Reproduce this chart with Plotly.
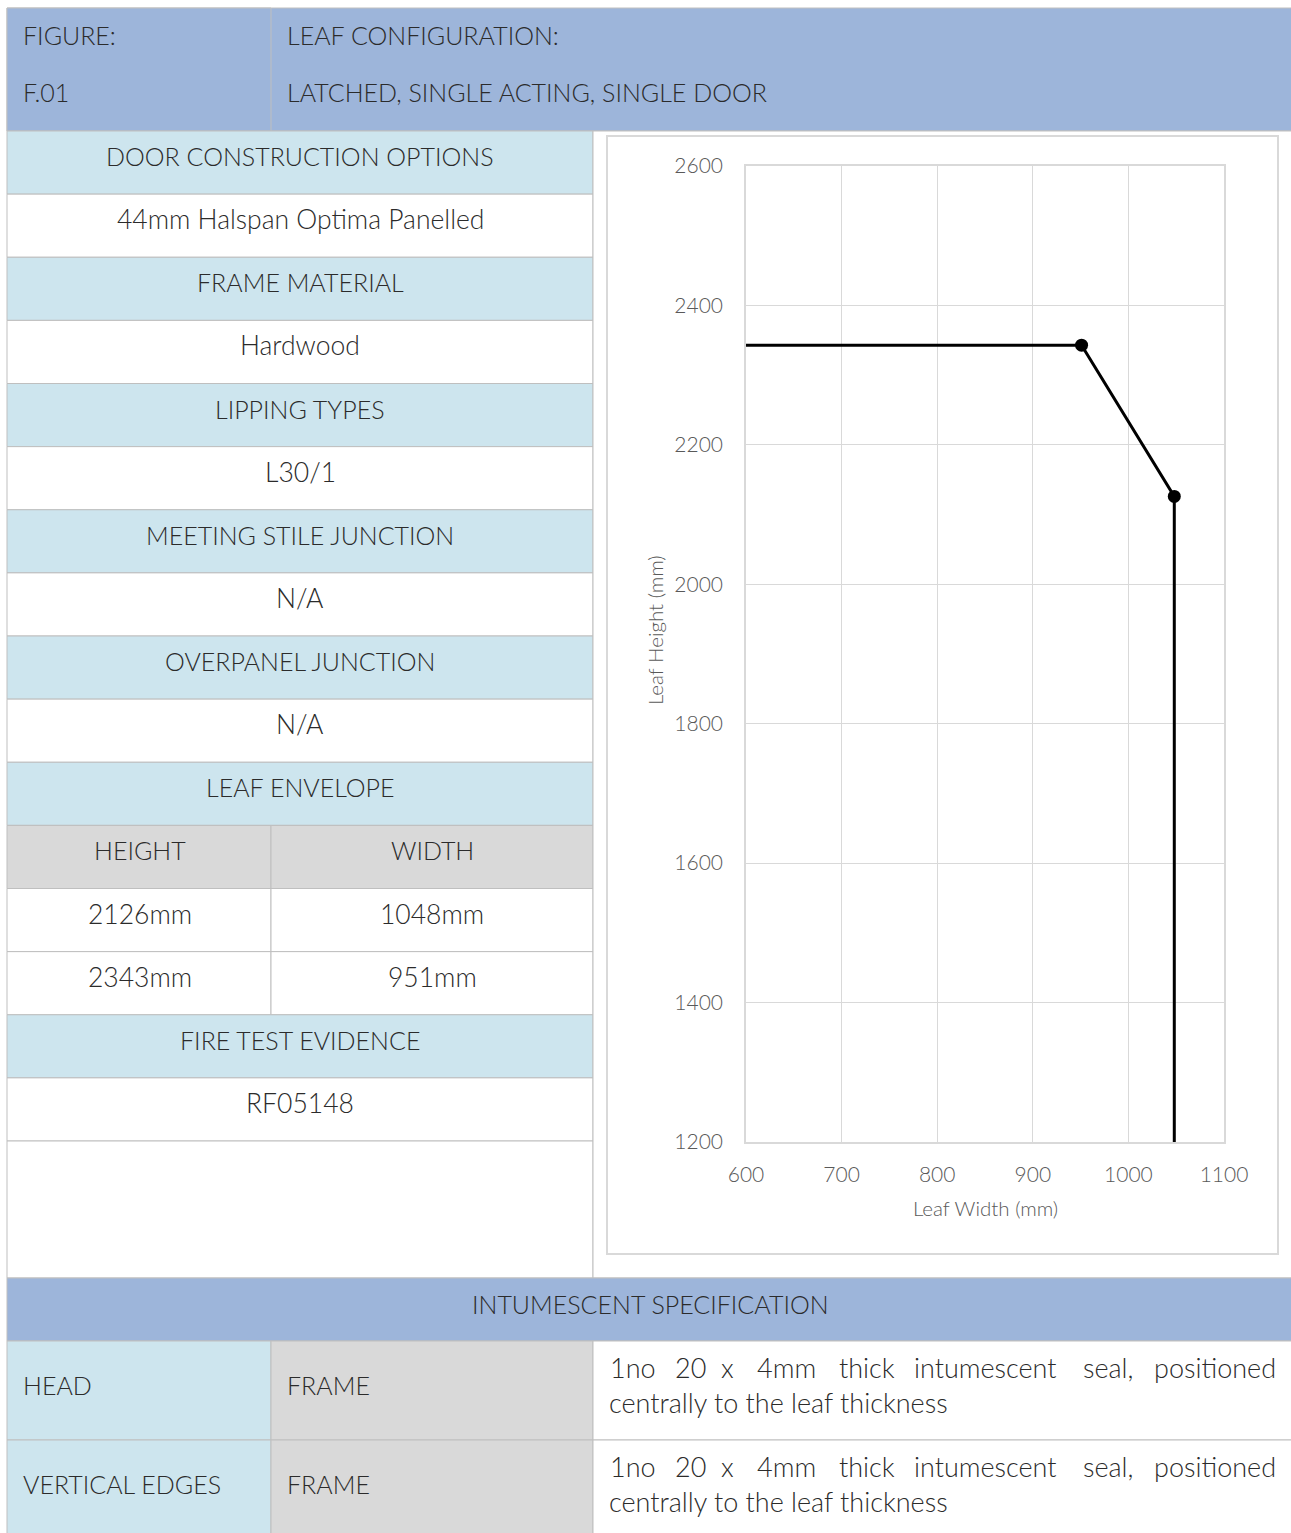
import plotly.graph_objects as go

# ---------------- data ----------------
figure_id = "F.01"
leaf_configuration = "LATCHED, SINGLE ACTING, SINGLE DOOR"
envelope_heights = [2126, 2343]
envelope_widths = [1048, 951]
x_ticks = [600, 700, 800, 900, 1000, 1100]
y_ticks = [1200, 1400, 1600, 1800, 2000, 2200, 2400, 2600]

left_labels = ["DOOR CONSTRUCTION OPTIONS", "FRAME MATERIAL", "LIPPING TYPES",
               "MEETING STILE JUNCTION", "OVERPANEL JUNCTION"]
left_values = ["44mm Halspan Optima Panelled", "Hardwood", "L30/1", "N/A", "N/A"]
fire_test = "RF05148"
spec_rows = ["HEAD", "VERTICAL EDGES"]
spec_types = ["FRAME", "FRAME"]
spec_text_line1 = ["1no", "20", "x", "4mm", "thick", "intumescent", "seal,", "positioned"]
spec_text_line2 = "centrally to the leaf thickness"

# ---------------- geometry helpers (page pixel coords) ----------------
OX, OY = 0, 0
W, H = 1291, 1533
def px(x): return (x - OX) / W
def py(y): return 1 - (y - OY) / H

BLUE = "#9DB5DA"
LBLUE = "#CDE5EE"
GREY = "#D9D9D9"
BORDER = "#BFBFBF"
TXT = "#2B2B2B"
FONT = "Lato"
CAP = 25      # caps labels
VAL = 26.5    # value texts
SPEC = 27

shapes = []
annots = []

def rect(x0, y0, x1, y1, fill, line=BORDER, lw=1):
    shapes.append(dict(type="rect", xref="paper", yref="paper",
                       x0=px(x0), x1=px(x1), y0=py(y1), y1=py(y0),
                       fillcolor=fill, line=dict(color=line, width=lw), layer="below"))

def text(x, y, s, anchor="center", size=CAP, color=TXT, angle=0, weight=300):
    annots.append(dict(x=px(x), y=py(y), xref="paper", yref="paper", text=s,
                       showarrow=False, xanchor=anchor, yanchor="middle", textangle=angle,
                       font=dict(family=FONT, size=size, color=color, weight=weight)))

# top header
rect(7, 8, 1300, 131, BLUE)
rect(7, 8, 271, 131, BLUE)
text(21, 35, "FIGURE:", "left")
text(21, 92, figure_id, "left")
text(285, 35, "LEAF CONFIGURATION:", "left")
text(285, 92, leaf_configuration, "left")

# left panel rows
L0, L1, MID = 7, 593, 271
rh = (1141 - 131) / 16
def ry(i): return 131 + i * rh

row = 0
for lab, val in zip(left_labels, left_values):
    rect(L0, ry(row), L1, ry(row + 1), LBLUE)
    text(300, ry(row) + 25, lab)
    rect(L0, ry(row + 1), L1, ry(row + 2), "white")
    text(300, ry(row + 1) + 25, val, size=VAL)
    row += 2
rect(L0, ry(row), L1, ry(row + 1), LBLUE)
text(300, ry(row) + 25, "LEAF ENVELOPE")
row += 1
rect(L0, ry(row), MID, ry(row + 1), GREY)
rect(MID, ry(row), L1, ry(row + 1), GREY)
text(140, ry(row) + 25, "HEIGHT")
text(432, ry(row) + 25, "WIDTH")
row += 1
for h, w in zip(envelope_heights, envelope_widths):
    rect(L0, ry(row), MID, ry(row + 1), "white")
    rect(MID, ry(row), L1, ry(row + 1), "white")
    text(140, ry(row) + 25, f"{h}mm", size=VAL)
    text(432, ry(row) + 25, f"{w}mm", size=VAL)
    row += 1
rect(L0, ry(row), L1, ry(row + 1), LBLUE)
text(300, ry(row) + 25, "FIRE TEST EVIDENCE")
row += 1
rect(L0, ry(row), L1, ry(row + 1), "white")
text(300, ry(row) + 25, fire_test, size=VAL)
row += 1
rect(L0, ry(row), L1, 1278, "white")

# chart panel
rect(L1, 131, 1300, 1278, "white")
rect(607, 136, 1278, 1254, "white", line=GREY, lw=2)

# bottom spec
rect(7, 1278, 1300, 1341, BLUE)
text(650, 1304, "INTUMESCENT SPECIFICATION")
word_x = [608, 673, 719, 755, 837, 912, 1081, 1278]
for i, (lab, typ) in enumerate(zip(spec_rows, spec_types)):
    y0 = 1341 + i * 99
    y1 = y0 + 99
    rect(7, y0, 271, y1, LBLUE)
    rect(271, y0, 593, y1, GREY)
    rect(593, y0, 1300, y1, "white")
    text(21, y0 + 44, lab, "left")
    text(285, y0 + 44, typ, "left")
    for j, (wd, xx) in enumerate(zip(spec_text_line1, word_x)):
        text(xx, y0 + 26, wd, "right" if j == len(word_x) - 1 else "left", size=SPEC)
    text(607, y0 + 61, spec_text_line2, "left", size=SPEC)

# ---------------- chart ----------------
xr = [x_ticks[0], x_ticks[-1]]
yr = [y_ticks[0], y_ticks[-1]]
order = sorted(range(len(envelope_widths)), key=lambda k: envelope_widths[k])
pts_x = [envelope_widths[k] for k in order]
pts_y = [envelope_heights[k] for k in order]
line_x = [xr[0]] + pts_x + [pts_x[-1]]
line_y = [pts_y[0]] + pts_y + [yr[0]]

fig = go.Figure()
fig.add_trace(go.Scatter(x=line_x, y=line_y, mode="lines",
                         line=dict(color="black", width=3), hoverinfo="skip", showlegend=False))
fig.add_trace(go.Scatter(x=pts_x, y=pts_y, mode="markers",
                         marker=dict(color="black", size=13), showlegend=False))

axis_common = dict(showgrid=True, gridcolor=GREY, gridwidth=1.3, zeroline=False,
                   showline=True, linecolor=GREY, linewidth=1.5, mirror=True,
                   ticks="outside", tickcolor="rgba(0,0,0,0)", automargin=False,
                   tickfont=dict(family=FONT, size=21, color="#595959", weight=300))
fig.update_xaxes(range=xr, tickvals=x_ticks, domain=[px(746), px(1224)], ticklen=13,
                 **axis_common)
fig.update_yaxes(range=yr, tickvals=y_ticks, domain=[py(1142), py(166)], ticklen=17,
                 **axis_common)

text(985, 1208, "Leaf Width (mm)", size=20.5, color="#595959")
text(655, 630, "Leaf Height (mm)", size=20.5, color="#595959", angle=-90)

fig.update_layout(width=W, height=H, margin=dict(l=0, r=0, t=0, b=0, pad=0),
                  paper_bgcolor="white", plot_bgcolor="rgba(0,0,0,0)",
                  shapes=shapes, annotations=annots, showlegend=False)

fig.write_html("out.html", config={"displayModeBar": False},
               post_script="document.body.style.margin='0px';document.body.style.overflow='hidden';")
